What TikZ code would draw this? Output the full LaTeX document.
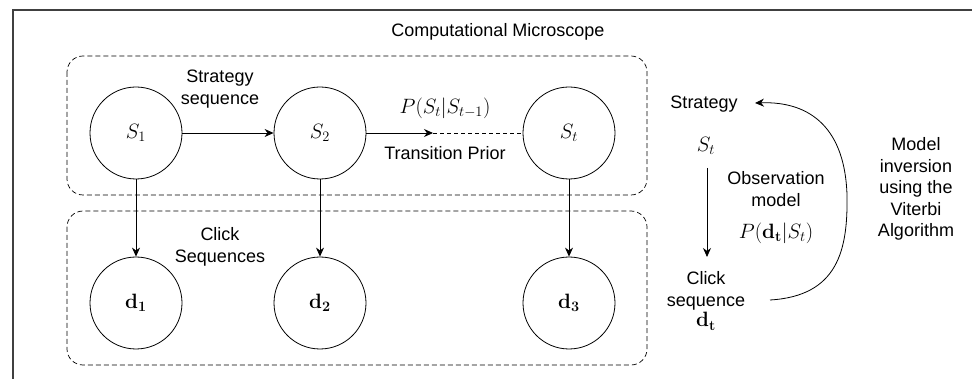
\documentclass[tikz,border=0pt]{standalone}
\usepackage[no-math]{fontspec}
\setmainfont{Liberation Sans}
\usetikzlibrary{arrows.meta}
\newcommand\dgtxt{\fontsize{18}{21.5}\selectfont}
\newcommand\dgmath{\fontsize{22}{26}\selectfont}
\begin{document}
\begin{tikzpicture}[x=1pt,y=-1pt,
  circ/.style={circle,draw,line width=0.8pt,minimum size=92pt,inner sep=0pt,font=\dgmath},
  txt/.style={align=center,font=\dgtxt,inner sep=1pt},
  mtxt/.style={align=center,font=\dgmath,inner sep=1pt},
  arr/.style={-{Stealth[length=9pt,width=8pt]},line width=0.8pt},
  grp/.style={draw,line width=0.7pt,dash pattern=on 5pt off 3pt,rounded corners=16pt},
  frame/.style={line width=1.3pt,draw=black!75}]
\useasboundingbox (0,0) rectangle (972,379);
\draw[frame] (13,379) -- (13,10) -- (972,10);
\node[txt] (title) at (498,32) {Computational Microscope};
\draw[grp] (67,56) rectangle (647,195);
\draw[grp] (67,211) rectangle (647,365);
\node[circ] (S1) at (136,133) {$S_1$};
\node[circ] (S2) at (320,133) {$S_2$};
\node[circ] (St) at (569,133) {$S_t$};
\node[circ] (d1) at (136,303) {$\mathbf{d}_\mathbf{1}$};
\node[circ] (d2) at (320,303) {$\mathbf{d}_\mathbf{2}$};
\node[circ] (d3) at (569,303) {$\mathbf{d}_\mathbf{3}$};
\coordinate (T) at (433,133);
\draw[arr] (S1) -- (S2);
\draw[arr] (S2) -- (T);
\draw[line width=0.7pt,dash pattern=on 4pt off 3pt] (T) -- (St);
\draw[arr] (S1) -- (d1);
\draw[arr] (S2) -- (d2);
\draw[arr] (St) -- (d3);
\node[txt] (ss) at (220,89) {Strategy\\sequence};
\node[mtxt] (ptr) at (445,108) {$P(S_t|S_{t-1})$};
\node[txt] (tp) at (445,153) {Transition Prior};
\node[txt] (cs) at (220,247) {Click\\Sequences};
% right part
\node[txt] (strat) at (704,104) {Strategy};
\node[mtxt] (rSt) at (706,146) {$S_t$};
\node[txt] (obs) at (776,189) {Observation\\model};
\node[mtxt] (pob) at (776,233) {$P(\mathbf{d}_\mathbf{t}|S_t)$};
\node[txt] (clk) at (706,301) {Click\\sequence\\[-1pt]{\dgmath$\mathbf{d}_\mathbf{t}$}};
\coordinate (oa) at (707,168);
\coordinate (ob) at (707,257);
\draw[arr] (oa) -- (ob);
\coordinate (ca) at (770,300);
\coordinate (cb) at (755,103);
\draw[arr] (ca) .. controls (838,296) and (848,250) .. (847,195)
               .. controls (845,130) and (812,101) .. (cb);
\node[txt] (mi) at (916,189) {Model\\inversion\\using the\\Viterbi\\Algorithm};
\end{tikzpicture}
\end{document}
